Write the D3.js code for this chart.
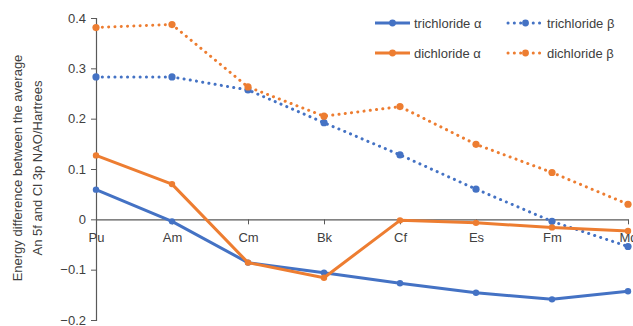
<!DOCTYPE html>
<html>
<head>
<meta charset="utf-8">
<script src="https://cdn.jsdelivr.net/npm/d3@7"></script>
<style>
  body { margin: 0; background: #fff; }
  text { font-family: "Liberation Sans", Arial, sans-serif; fill: #404040; }
</style>
</head>
<body>
<svg id="chart" width="633" height="326"></svg>
<script>
var elements = ["Pu", "Am", "Cm", "Bk", "Cf", "Es", "Fm", "Md"];
var yTicks = [-0.2, -0.1, 0, 0.1, 0.2, 0.3, 0.4];

var triAlpha = [0.059, -0.004, -0.086, -0.106, -0.127, -0.146, -0.159, -0.143];
var diAlpha  = [0.127, 0.070, -0.086, -0.116, -0.002, -0.007, -0.016, -0.023];
var triBeta  = [0.283, 0.283, 0.257, 0.192, 0.128, 0.060, -0.004, -0.054];
var diBeta   = [0.381, 0.387, 0.263, 0.205, 0.224, 0.149, 0.093, 0.030];

var blue = "#4472C4", orange = "#ED7D31";

var series = [
  { name: "trichloride \u03b1", values: triAlpha, color: blue, dotted: false },
  { name: "trichloride \u03b2", values: triBeta, color: blue, dotted: true },
  { name: "dichloride \u03b1", values: diAlpha, color: orange, dotted: false },
  { name: "dichloride \u03b2", values: diBeta, color: orange, dotted: true }
];

var svg = d3.select("#chart");

var x = d3.scalePoint().domain(elements).range([96, 628]);
var y = d3.scaleLinear().domain([-0.2, 0.4]).range([320, 18]);

// y axis
var yAxis = svg.append("g").attr("transform", "translate(96,0)")
  .call(d3.axisLeft(y).tickValues(yTicks).tickSize(5).tickFormat(function(d) { return d === 0 ? "0" : d3.format(".1f")(d); }));
yAxis.select(".domain").attr("stroke", "#595959").attr("stroke-width", 1.2);
yAxis.selectAll(".tick line").attr("stroke", "#595959");
yAxis.selectAll(".tick text").attr("x", -10).style("font-size", "13px").style("fill", "#404040");

// x axis on zero
var xAxis = svg.append("g").attr("transform", "translate(0," + y(0) + ")")
  .call(d3.axisBottom(x).tickSize(5).tickSizeOuter(0));
xAxis.select(".domain").attr("stroke", "#595959").attr("stroke-width", 1.2);
xAxis.selectAll(".tick line").attr("stroke", "#595959");
xAxis.selectAll(".tick text").attr("y", 13).style("font-size", "13px").style("fill", "#404040");

// y title
var title = svg.append("text")
  .attr("transform", "translate(0,168) rotate(-90)")
  .attr("text-anchor", "middle")
  .style("font-size", "13px");
title.append("tspan").attr("x", 0).attr("y", 22).text("Energy difference between the average");
title.append("tspan").attr("x", 0).attr("y", 42).text("An 5f and Cl 3p NAO/Hartrees");

var line = d3.line()
  .x(function(d, i) { return x(elements[i]); })
  .y(function(d) { return y(d); });

function styleLine(sel, s) {
  sel.attr("fill", "none").attr("stroke", s.color).attr("stroke-width", 3);
  if (s.dotted) sel.attr("stroke-dasharray", "0.1 6.2").attr("stroke-linecap", "round");
  else sel.attr("stroke-linejoin", "round");
}

series.forEach(function(s) {
  var g = svg.append("g");
  g.append("path").datum(s.values).attr("d", line).call(styleLine, s);
  g.selectAll("circle").data(s.values).enter().append("circle")
    .attr("cx", function(d, i) { return x(elements[i]); })
    .attr("cy", function(d) { return y(d); })
    .attr("r", s.dotted ? 3.6 : 3.2)
    .attr("fill", s.color);
});

// legend
var legendPos = [[375, 23], [508, 23], [375, 53], [508, 53]];
series.forEach(function(s, i) {
  var p = legendPos[i];
  var lg = svg.append("g").attr("transform", "translate(" + p[0] + "," + p[1] + ")");
  lg.append("path").attr("d", "M0,0H35").call(styleLine, s);
  lg.append("circle").attr("cx", 17.5).attr("cy", 0).attr("r", 3.4).attr("fill", s.color);
  lg.append("text").attr("x", 39).attr("y", 4.5).style("font-size", "13px").text(s.name);
});
</script>
</body>
</html>
